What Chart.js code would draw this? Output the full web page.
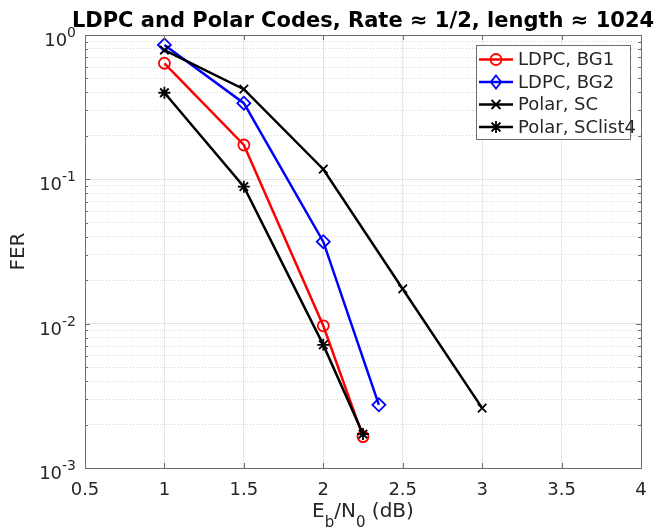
<!DOCTYPE html>
<html>
<head>
<meta charset="utf-8">
<script src="https://cdn.jsdelivr.net/npm/chart.js@4.4.1/dist/chart.umd.min.js"></script>
<style>
  html, body { margin: 0; padding: 0; background: #fff; }
  #wrap { width: 656px; height: 531px; }
</style>
</head>
<body>
<div id="wrap"><canvas id="ferChart" width="656" height="531"></canvas></div>
<script>
// values (FER vs Eb/N0 in dB)
const snrBG1 = [1, 1.5, 2, 2.25];
const ferBG1 = [0.637, 0.173, 0.00966, 0.00165];

const snrBG2 = [1, 1.5, 2, 2.35];
const ferBG2 = [0.853, 0.337, 0.037, 0.00274];

const snrSC = [1, 1.5, 2, 2.5, 3];
const ferSC = [0.787, 0.421, 0.1175, 0.0174, 0.0026];

const snrSCL = [1, 1.5, 2, 2.25];
const ferSCL = [0.398, 0.089, 0.00713, 0.00172];

const seriesNames = ['LDPC, BG1', 'LDPC, BG2', 'Polar, SC', 'Polar, SClist4'];
const xTicks = [0.5, 1, 1.5, 2, 2.5, 3, 3.5, 4];
const yExponents = [-3, -2, -1, 0];

const FONT = '"DejaVu Sans", "Liberation Sans", sans-serif';
const TXT = '#262626';

function pts(xs, ys) {
    return xs.map((x, i) => ({ x: x, y: ys[i] }));
}

// all 1..9 x 10^k values for the log grid
const yGridVals = [];
yExponents.forEach(e => {
    for (let m = 1; m <= 9; m++) {
        if (e === 0 && m > 1) break;
        yGridVals.push(m * Math.pow(10, e));
    }
});

function isDecade(v) {
    const l = Math.log10(v);
    return Math.abs(l - Math.round(l)) < 1e-9;
}

function drawMarker(ctx, style, x, y, r, color) {
    ctx.save();
    ctx.strokeStyle = color;
    ctx.lineWidth = 1.8;
    ctx.beginPath();
    if (style === 'circle') {
        ctx.arc(x, y, r, 0, Math.PI * 2);
    } else if (style === 'rectRot') {
        ctx.moveTo(x, y - r); ctx.lineTo(x + r * 0.8, y); ctx.lineTo(x, y + r); ctx.lineTo(x - r * 0.8, y); ctx.closePath();
    } else if (style === 'crossRot') {
        const d = r * 0.75;
        ctx.moveTo(x - d, y - d); ctx.lineTo(x + d, y + d);
        ctx.moveTo(x - d, y + d); ctx.lineTo(x + d, y - d);
    } else {
        const d = r * 0.75;
        ctx.moveTo(x - d, y - d); ctx.lineTo(x + d, y + d);
        ctx.moveTo(x - d, y + d); ctx.lineTo(x + d, y - d);
        ctx.moveTo(x, y - r); ctx.lineTo(x, y + r);
        ctx.moveTo(x - r, y); ctx.lineTo(x + r, y);
    }
    ctx.stroke();
    ctx.restore();
}

const matlabLook = {
    id: 'matlabLook',
    afterDraw(chart) {
        const ctx = chart.ctx;
        const a = chart.chartArea;
        const xs = chart.scales.x;
        const ys = chart.scales.y;
        ctx.save();

        // axes box
        ctx.strokeStyle = '#6e6e6e';
        ctx.lineWidth = 1;
        ctx.strokeRect(Math.round(a.left) + 0.5, Math.round(a.top) + 0.5,
            Math.round(a.right - a.left), Math.round(a.bottom - a.top));

        // inward tick marks
        ctx.beginPath();
        xTicks.forEach(v => {
            const px = Math.round(xs.getPixelForValue(v)) + 0.5;
            ctx.moveTo(px, a.bottom); ctx.lineTo(px, a.bottom - 5);
            ctx.moveTo(px, a.top); ctx.lineTo(px, a.top + 5);
        });
        yGridVals.forEach(v => {
            const py = Math.round(ys.getPixelForValue(v)) + 0.5;
            const len = isDecade(v) ? 5 : 3;
            ctx.moveTo(a.left, py); ctx.lineTo(a.left + len, py);
            ctx.moveTo(a.right, py); ctx.lineTo(a.right - len, py);
        });
        ctx.stroke();

        // x tick labels
        ctx.fillStyle = TXT;
        ctx.font = '18px ' + FONT;
        ctx.textAlign = 'center';
        ctx.textBaseline = 'alphabetic';
        xTicks.forEach(v => {
            ctx.fillText(String(v), xs.getPixelForValue(v), a.bottom + 27);
        });

        // y tick labels 10^k
        yExponents.forEach(e => {
            const py = ys.getPixelForValue(Math.pow(10, e));
            const right = a.left - 9;
            ctx.font = '14px ' + FONT;
            ctx.textAlign = 'right';
            const expTxt = String(e);
            const we = ctx.measureText(expTxt).width;
            ctx.fillText(expTxt, right, py + 2);
            ctx.font = '18px ' + FONT;
            ctx.fillText('10', right - we, py + 11);
        });

        // x axis label E_b/N_0 (dB)
        const parts = [
            { t: 'E', f: '20px ' + FONT, dy: 0 },
            { t: 'b', f: '15px ' + FONT, dy: 10 },
            { t: '/N', f: '20px ' + FONT, dy: 0 },
            { t: '0', f: '15px ' + FONT, dy: 10 },
            { t: ' (dB)', f: '20px ' + FONT, dy: 0 }
        ];
        let total = 0;
        parts.forEach(p => { ctx.font = p.f; p.w = ctx.measureText(p.t).width; total += p.w; });
        let cx = (a.left + a.right) / 2 - total / 2;
        ctx.textAlign = 'left';
        parts.forEach(p => {
            ctx.font = p.f;
            ctx.fillText(p.t, cx, a.bottom + 49 + p.dy);
            cx += p.w;
        });

        // y axis label
        ctx.save();
        ctx.translate(24, (a.top + a.bottom) / 2);
        ctx.rotate(-Math.PI / 2);
        ctx.textAlign = 'center';
        ctx.font = '20px ' + FONT;
        ctx.fillText('FER', 0, 0);
        ctx.restore();

        // title
        ctx.fillStyle = '#000';
        ctx.font = 'bold 21px ' + FONT;
        ctx.textAlign = 'center';
        ctx.fillText('LDPC and Polar Codes, Rate \u2248 1/2, length \u2248 1024', (a.left + a.right) / 2, 27);

        // legend inside the axes, top right
        const lx = 476, ly = 45, lw = 154, lh = 94;
        ctx.fillStyle = '#fff';
        ctx.fillRect(lx, ly, lw, lh);
        ctx.strokeStyle = '#6e6e6e';
        ctx.lineWidth = 1;
        ctx.strokeRect(lx + 0.5, ly + 0.5, lw, lh);
        chart.data.datasets.forEach((ds, i) => {
            const ry = ly + 14.5 + i * 22.5;
            ctx.strokeStyle = ds.borderColor;
            ctx.lineWidth = 2.5;
            ctx.beginPath();
            ctx.moveTo(479, ry); ctx.lineTo(513, ry);
            ctx.stroke();
            drawMarker(ctx, ds.pointStyle, 496, ry, ds.pointRadius, ds.borderColor);
            ctx.fillStyle = TXT;
            ctx.font = '18px ' + FONT;
            ctx.textAlign = 'left';
            ctx.textBaseline = 'middle';
            ctx.fillText(ds.label, 518, ry + 1);
            ctx.textBaseline = 'alphabetic';
        });
        ctx.restore();
    }
};

const chartData = {
    datasets: [{
        label: seriesNames[0],
        data: pts(snrBG1, ferBG1),
        borderColor: '#ff0000',
        pointStyle: 'circle',
        pointRadius: 5.5,
        order: 3
    }, {
        label: seriesNames[1],
        data: pts(snrBG2, ferBG2),
        borderColor: '#0000ff',
        pointStyle: 'rectRot',
        pointRadius: 6.5,
        order: 2
    }, {
        label: seriesNames[2],
        data: pts(snrSC, ferSC),
        borderColor: '#000000',
        pointStyle: 'crossRot',
        pointRadius: 6,
        order: 1
    }, {
        label: seriesNames[3],
        data: pts(snrSCL, ferSCL),
        borderColor: '#000000',
        pointStyle: 'star',
        pointRadius: 6,
        order: 0
    }]
};
chartData.datasets.forEach(ds => {
    ds.backgroundColor = 'rgba(0,0,0,0)';
    ds.borderWidth = 2.5;
    ds.pointBorderWidth = 1.8;
    ds.pointBorderColor = ds.borderColor;
    ds.pointBackgroundColor = 'rgba(0,0,0,0)';
    ds.tension = 0;
    ds.fill = false;
});

const config = {
    type: 'line',
    data: chartData,
    plugins: [matlabLook],
    options: {
        responsive: false,
        animation: false,
        devicePixelRatio: 1,
        layout: { padding: { left: 85, right: 15, top: 35, bottom: 63 } },
        plugins: {
            legend: { display: false },
            tooltip: { enabled: false }
        },
        scales: {
            x: {
                type: 'linear',
                min: 0.5,
                max: 4,
                ticks: { display: false, stepSize: 0.5 },
                grid: { drawTicks: false, color: '#e6e6e6', lineWidth: 1 },
                border: { display: false }
            },
            y: {
                type: 'logarithmic',
                min: 0.001,
                max: 1,
                afterBuildTicks: scale => {
                    scale.ticks = yGridVals.map(v => ({ value: v }));
                },
                ticks: { display: false },
                grid: {
                    drawTicks: false,
                    lineWidth: 1,
                    color: c => isDecade(c.tick.value) ? '#e3e3e3' : '#d4d4d4'
                },
                border: {
                    display: false,
                    dash: c => (c.tick && !isDecade(c.tick.value)) ? [1, 2] : []
                }
            }
        }
    }
};

new Chart(document.getElementById('ferChart'), config);
</script>
</body>
</html>
